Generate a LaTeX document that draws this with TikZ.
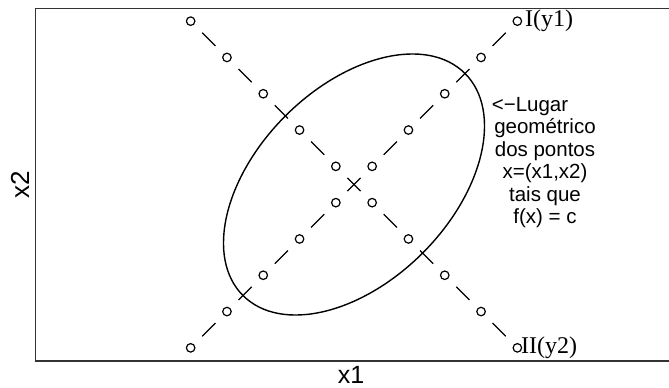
\documentclass[tikz,border=0pt]{standalone}
\usepackage{fontspec}
\setmainfont{Liberation Serif}
\setsansfont{Liberation Sans}
\begin{document}
\begin{tikzpicture}[x=1pt,y=-1pt,
  pt/.style={circle,draw,inner sep=0pt,minimum size=8.5pt,line width=1.2pt},
  seg/.style={shorten <=11.5pt, shorten >=11.5pt, line width=1.2pt},
  lbl/.style={inner sep=0pt, font=\fontsize{24}{24}\selectfont}]
\useasboundingbox (0,0) rectangle (669,388);
\fill[white] (0,0) rectangle (669,388);
\draw[line width=1.6pt, black!80] (680,8.5) -- (35.5,8.5) -- (35.5,361) -- (680,361);
\coordinate (c) at (354,184.5);
\foreach \i in {0,...,9}{
  \node[pt] (a\i) at ({354+(\i-4.5)*36.3},{184.5-(\i-4.5)*36.3}) {};
  \node[pt] (b\i) at ({354+(\i-4.5)*36.3},{184.5+(\i-4.5)*36.3}) {};
}
\foreach \i [evaluate=\i as \j using int(\i+1)] in {0,...,8}{
  \draw[seg] (a\i) -- (a\j);
  \draw[seg] (b\i) -- (b\j);
}
\draw[line width=1.4pt, rotate around={45:(c)}] (c) ellipse [x radius=157, y radius=97];
\node[lbl, anchor=west] (l1) at (525,21) {I(y1)};
\node[lbl, anchor=west] (l2) at (521,348) {II(y2)};
\node[anchor=north, align=center, inner sep=0pt, font=\sffamily\fontsize{20.5}{22.5}\selectfont] (txt) at (545,97)
  {<−Lugar\hspace*{30pt}\\geométrico\\dos pontos\\x=(x1,x2)\\tais que\\f(x) = c};
\node[anchor=base, inner sep=0pt, font=\sffamily\fontsize{25}{25}\selectfont] (xa) at (351,383.5) {x1};
\node[rotate=90, anchor=base, inner sep=0pt, font=\sffamily\fontsize{26}{26}\selectfont] (xb) at (29,185) {x2};
\end{tikzpicture}
\end{document}
